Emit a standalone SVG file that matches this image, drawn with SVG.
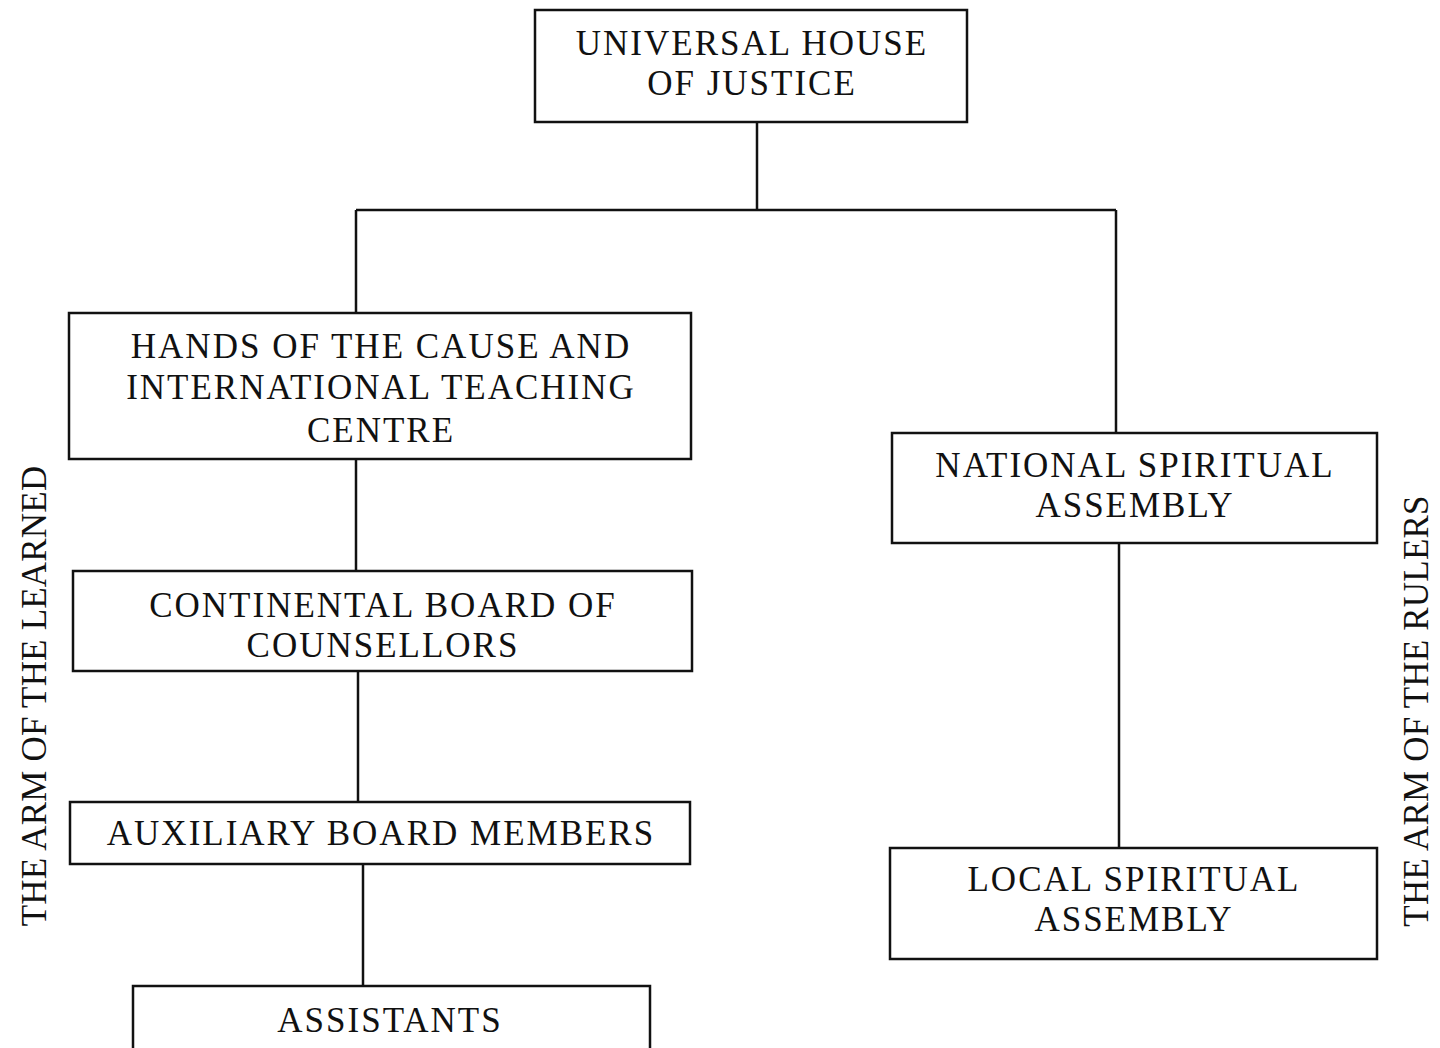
<svg xmlns="http://www.w3.org/2000/svg" width="1440" height="1048" viewBox="0 0 1440 1048">
<style>
.box{fill:#fff;stroke:#111;stroke-width:2.5}
.t{font-family:"Liberation Serif","Times New Roman",serif;font-size:35px;letter-spacing:2px;fill:#111;text-anchor:middle}
.v{letter-spacing:0.2px}
.c{fill:none;stroke:#111;stroke-width:2.5}
</style>
<rect width="1440" height="1048" fill="#fff"/>
<g id="connectors">
<path class="c" d="M757 122V210M356 210H1116M356 210V313M1116 210V434"/>
<path class="c" d="M356 459V572"/>
<path class="c" d="M358 671V803"/>
<path class="c" d="M363 864V986"/>
<path class="c" d="M1119 543V848"/>
</g>
<g id="uhj"><rect class="box" x="535" y="10" width="432" height="112"/>
<text class="t" x="752" y="55">UNIVERSAL HOUSE</text><text class="t" x="752" y="95">OF JUSTICE</text></g>
<g id="hands"><rect class="box" x="69" y="313" width="622" height="146"/>
<text class="t" x="381" y="358">HANDS OF THE CAUSE AND</text><text class="t" x="381" y="399">INTERNATIONAL TEACHING</text><text class="t" x="381" y="442">CENTRE</text></g>
<g id="cbc"><rect class="box" x="73" y="571" width="619" height="100"/>
<text class="t" x="383" y="617">CONTINENTAL BOARD OF</text><text class="t" x="383" y="657">COUNSELLORS</text></g>
<g id="abm"><rect class="box" x="70" y="802" width="620" height="62"/>
<text class="t" x="381" y="845">AUXILIARY BOARD MEMBERS</text></g>
<g id="assistants"><rect class="box" x="133" y="986" width="517" height="80"/>
<text class="t" x="390" y="1032">ASSISTANTS</text></g>
<g id="nsa"><rect class="box" x="892" y="433" width="485" height="110"/>
<text class="t" x="1135" y="477">NATIONAL SPIRITUAL</text><text class="t" x="1135" y="517">ASSEMBLY</text></g>
<g id="lsa"><rect class="box" x="890" y="848" width="487" height="111"/>
<text class="t" x="1134" y="891">LOCAL SPIRITUAL</text><text class="t" x="1134" y="931">ASSEMBLY</text></g>
<g id="arm-learned"><text class="t v" transform="translate(46 696) rotate(-90)">THE ARM OF THE LEARNED</text></g>
<g id="arm-rulers"><text class="t v" transform="translate(1428 711) rotate(-90)">THE ARM OF THE RULERS</text></g>
</svg>
